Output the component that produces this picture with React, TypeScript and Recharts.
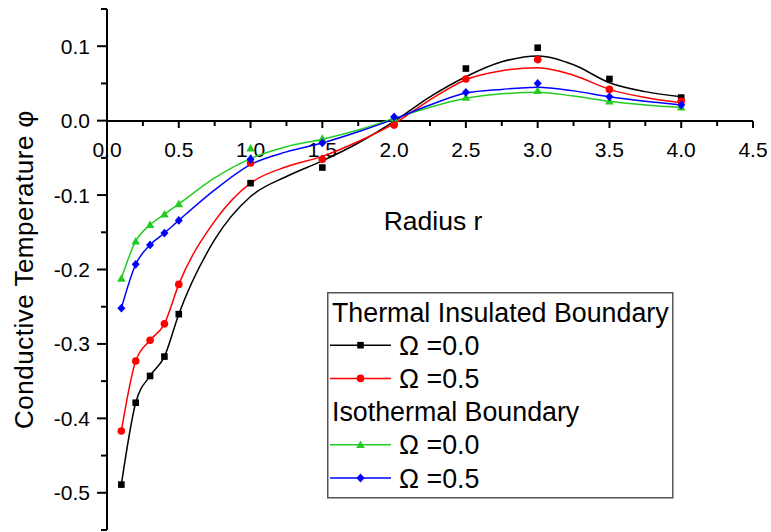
import React from 'react';
import { ComposedChart, Line, Scatter, XAxis, YAxis, Legend } from 'recharts';

// measured points (markers)
const markerX = [0.1, 0.2, 0.3, 0.4, 0.5, 1.0, 1.5, 2.0, 2.5, 3.0, 3.5, 4.0];
const insulated00 = [-0.489, -0.379, -0.343, -0.317, -0.26, -0.084, -0.063, -0.002, 0.07, 0.098, 0.056, 0.031];
const insulated05 = [-0.417, -0.323, -0.295, -0.273, -0.22, -0.057, -0.052, -0.006, 0.056, 0.082, 0.042, 0.026];
const isothermal00 = [-0.212, -0.162, -0.14, -0.126, -0.112, -0.037, -0.024, 0.003, 0.031, 0.04, 0.026, 0.018];
const isothermal05 = [-0.252, -0.193, -0.167, -0.151, -0.134, -0.052, -0.03, 0.005, 0.038, 0.05, 0.032, 0.021];

// fitted curves
const curveX = [0.1, 0.2, 0.3, 0.4, 0.5, 0.75, 1.0, 1.25, 1.5, 1.75, 2.0, 2.25, 2.5, 2.75, 3.0, 3.25, 3.5, 3.75, 4.0];
const fitInsulated00 = [-0.489, -0.379, -0.343, -0.317, -0.26, -0.16, -0.102, -0.075, -0.054, -0.03, -0.001, 0.032, 0.059, 0.079, 0.087, 0.075, 0.051, 0.039, 0.032];
const fitInsulated05 = [-0.417, -0.323, -0.295, -0.273, -0.22, -0.135, -0.084, -0.062, -0.048, -0.028, -0.004, 0.028, 0.055, 0.067, 0.071, 0.061, 0.042, 0.031, 0.024];
const fitIsothermal00 = [-0.212, -0.162, -0.14, -0.126, -0.112, -0.077, -0.051, -0.035, -0.025, -0.0125, 0.003, 0.018, 0.03, 0.036, 0.038, 0.033, 0.026, 0.021, 0.0175];
const fitIsothermal05 = [-0.252, -0.193, -0.167, -0.151, -0.134, -0.093, -0.059, -0.042, -0.03, -0.015, 0.002, 0.021, 0.037, 0.042, 0.045, 0.04, 0.032, 0.026, 0.021];

const xTicks = [0, 0.25, 0.5, 0.75, 1, 1.25, 1.5, 1.75, 2, 2.25, 2.5, 2.75, 3, 3.25, 3.5, 3.75, 4, 4.25, 4.5];
const yTicks = [-0.55, -0.5, -0.45, -0.4, -0.35, -0.3, -0.25, -0.2, -0.15, -0.1, -0.05, 0, 0.05, 0.1, 0.15];

const FONT = 'Liberation Sans, Arial, sans-serif';

const toRows = (xs: number[], ys: number[]) => xs.map((x, i) => ({ x, y: ys[i] }));

const series = [
  { name: 'Ω =0.0', color: '#000000', kind: 'square', marks: insulated00, fit: fitInsulated00 },
  { name: 'Ω =0.5', color: '#ff0000', kind: 'circle', marks: insulated05, fit: fitInsulated05 },
  { name: 'Ω =0.0', color: '#22cc22', kind: 'triangle', marks: isothermal00, fit: fitIsothermal00 },
  { name: 'Ω =0.5', color: '#0000ff', kind: 'diamond', marks: isothermal05, fit: fitIsothermal05 },
];

const Marker = ({ kind, cx, cy, color }: { kind: string; cx: number; cy: number; color: string }) => {
  if (kind === 'square') return <rect x={cx - 3.3} y={cy - 3.3} width={6.6} height={6.6} fill={color} />;
  if (kind === 'circle') return <circle cx={cx} cy={cy} r={3.8} fill={color} />;
  if (kind === 'triangle')
    return <path d={`M${cx},${cy - 4.3}L${cx + 4.3},${cy + 3.2}L${cx - 4.3},${cy + 3.2}Z`} fill={color} />;
  return <path d={`M${cx},${cy - 4.4}L${cx + 4},${cy}L${cx},${cy + 4.4}L${cx - 4},${cy}Z`} fill={color} />;
};

const isMajor = (v: number, step: number) => Math.abs(v / step - Math.round(v / step)) < 1e-6;

const YTick = (props: any) => {
  const { x, y, payload } = props;
  const major = isMajor(payload.value, 0.1);
  return (
    <g>
      <line x1={x} y1={y} x2={x - (major ? 10 : 6)} y2={y} stroke="#000" strokeWidth={2} />
      {major && (
        <text x={x - 17} y={y + 7.5} textAnchor="end" fontSize={21} fontFamily={FONT} fill="#000">
          {payload.value.toFixed(1)}
        </text>
      )}
    </g>
  );
};

const XTick = (props: any) => {
  const { x, y, payload } = props;
  const major = isMajor(payload.value, 0.5);
  return (
    <g>
      <line x1={x} y1={y} x2={x} y2={y + (major ? 7 : 5)} stroke="#000" strokeWidth={2} />
      {major && (
        <text x={x} y={y + 36} textAnchor="middle" fontSize={21} fontFamily={FONT} fill="#000">
          {payload.value.toFixed(1)}
        </text>
      )}
    </g>
  );
};

const YTitle = (props: any) => {
  const { viewBox } = props;
  const cx = viewBox.x + 24;
  const cy = viewBox.y + viewBox.height / 2;
  return (
    <text x={cx} y={cy} transform={`rotate(-90, ${cx}, ${cy})`} textAnchor="middle" dominantBaseline="central"
      fontSize={26} letterSpacing={0.5} fontFamily={FONT} fill="#000">
      Conductive Temperature φ
    </text>
  );
};

const XTitle = (props: any) => {
  const { viewBox } = props;
  return (
    <text x={viewBox.x + viewBox.width / 2 + 3} y={viewBox.y + 109} textAnchor="middle" fontSize={26.5}
      fontFamily={FONT} fill="#000">
      Radius r
    </text>
  );
};

const legendGroups = [
  { title: 'Thermal Insulated Boundary', items: [series[0], series[1]] },
  { title: 'Isothermal Boundary', items: [series[2], series[3]] },
];

const LegendBox = () => {
  const rowH = 33.2;
  let row = 0;
  const nodes: React.ReactNode[] = [];
  legendGroups.forEach((g, gi) => {
    const cy = 20 + rowH * row++;
    nodes.push(
      <text key={'g' + gi} x={5} y={cy + 9.5} fontSize={26.8} fontFamily={FONT} fill="#000">{g.title}</text>
    );
    g.items.forEach((s, si) => {
      const y = 20 + rowH * row++;
      nodes.push(
        <g key={gi + '-' + si}>
          <line x1={3} y1={y} x2={64} y2={y} stroke={s.color} strokeWidth={1.5} />
          <Marker kind={s.kind} cx={33.5} cy={y} color={s.color} />
          <text x={72} y={y + 9.5} fontSize={26.8} fontFamily={FONT} fill="#000">{s.name}</text>
        </g>
      );
    });
  });
  return (
    <svg width={347} height={207}>
      <rect x={0.75} y={0.75} width={345} height={205} fill="#fff" stroke="#555" strokeWidth={1.5} />
      {nodes}
    </svg>
  );
};

export default function App() {
  return (
    <div style={{ position: 'absolute', left: 0, top: 0, width: 771, height: 532, background: '#fff', fontFamily: FONT }}>
      {/* x axis drawn through y = 0 */}
      <div style={{ position: 'absolute', left: 0, top: 0 }}>
        <ComposedChart width={771} height={261} data={toRows(curveX, fitInsulated00)}
          margin={{ top: 9, right: 18, bottom: 0, left: 107 }}>
          <XAxis dataKey="x" type="number" domain={[0, 4.5]} ticks={xTicks} interval={0}
            tickSize={0} tickMargin={0} height={140} tickLine={false}
            axisLine={{ stroke: '#000', strokeWidth: 2 }} tick={<XTick />} label={<XTitle />} />
        </ComposedChart>
      </div>
      <div style={{ position: 'absolute', left: 0, top: 0 }}>
        <ComposedChart width={771} height={532} margin={{ top: 9, right: 18, bottom: 2, left: 0 }}>
          <XAxis dataKey="x" type="number" domain={[0, 4.5]} hide />
          <YAxis dataKey="y" type="number" domain={[-0.55, 0.15]} ticks={yTicks} interval={0} width={107}
            tickSize={0} tickMargin={0} tickLine={false} allowDataOverflow
            axisLine={{ stroke: '#000', strokeWidth: 2 }} tick={<YTick />} label={<YTitle />} />
          {series.map((s, i) => (
            <Line key={'l' + i} data={toRows(curveX, s.fit)} dataKey="y" type="monotone" stroke={s.color}
              strokeWidth={1.5} dot={false} activeDot={false} isAnimationActive={false} legendType="none" />
          ))}
          {series.map((s, i) => (
            <Scatter key={'s' + i} data={toRows(markerX, s.marks)} dataKey="y" fill={s.color} isAnimationActive={false}
              legendType="none"
              shape={(p: any) => <Marker kind={s.kind} cx={p.cx} cy={p.cy} color={s.color} />} />
          ))}
          <Legend layout="vertical" align="center" verticalAlign="middle" content={<LegendBox />}
            wrapperStyle={{ left: 327, top: 292, width: 347, height: 207 }} />
        </ComposedChart>
      </div>
    </div>
  );
}
